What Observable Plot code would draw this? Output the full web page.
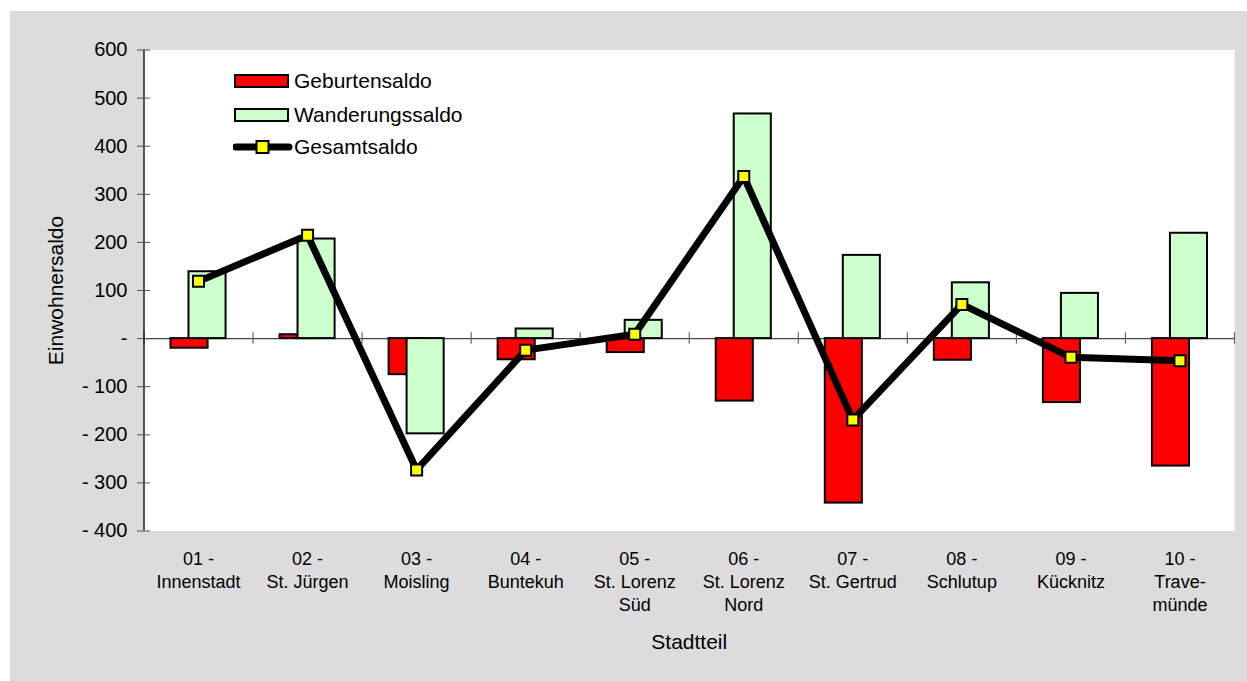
<!DOCTYPE html>
<html>
<head>
<meta charset="utf-8">
<script src="https://cdn.jsdelivr.net/npm/d3@7"></script>
<script src="https://cdn.jsdelivr.net/npm/@observablehq/plot@0.6"></script>
<style>
  html, body { margin: 0; padding: 0; background: #ffffff; width: 1247px; height: 681px; overflow: hidden; }
  #frame { position: absolute; left: 10px; top: 11px; width: 1237px; height: 670px; background: #dcdcdc; }
  #chart { position: absolute; left: 0; top: 0; }
  .legend { position: absolute; font-family: "Liberation Sans", Arial, sans-serif; font-size: 21px; color: #000; }
  .legend .item { position: absolute; left: 0; height: 22px; white-space: nowrap; }
  .legend svg { position: absolute; left: 0; top: 1px; }
  .legend span { position: absolute; left: 61px; top: 0; line-height: 22px; }
</style>
</head>
<body>
<div id="frame"><div id="chart"></div></div>
<div class="legend" id="legend" style="left:233px; top:70px;"></div>
<script>
const categories = [
  "01 -\nInnenstadt", "02 -\nSt. Jürgen", "03 -\nMoisling", "04 -\nBuntekuh",
  "05 -\nSt. Lorenz\nSüd", "06 -\nSt. Lorenz\nNord", "07 -\nSt. Gertrud",
  "08 -\nSchlutup", "09 -\nKücknitz", "10 -\nTrave-\nmünde"
];
const geburtensaldo = [-20, 8, -75, -44, -29, -130, -342, -45, -133, -265];
const wanderungssaldo = [139, 207, -198, 20, 38, 467, 173, 116, 94, 219];
const gesamtsaldo = [119, 215, -273, -24, 9, 337, -169, 71, -39, -46];
const yTicks = [-400, -300, -200, -100, 0, 100, 200, 300, 400, 500, 600];
const seriesNames = ["Geburtensaldo", "Wanderungssaldo", "Gesamtsaldo"];

const font = '"Liberation Sans", Arial, sans-serif';
const idx = categories.map((_, i) => i);
const xDomain = [-0.5, categories.length - 0.5];
const boundaries = d3.range(categories.length + 1).map(i => i - 0.5);

const barHalf = 0.17, barShift = 0.0825;
const redData = idx.map(i => ({i, v: geburtensaldo[i]}));
const greenData = idx.map(i => ({i, v: wanderungssaldo[i]}));
const totalData = idx.map(i => ({i, v: gesamtsaldo[i]}));

const fmt = v => v === 0 ? "-" : (v < 0 ? "- " + Math.abs(v) : String(v));

const plot = Plot.plot({
  width: 1237,
  height: 670,
  marginLeft: 133.5,
  marginRight: 13,
  marginTop: 38.5,
  marginBottom: 150.5,
  style: { background: "transparent", fontFamily: font, fontSize: "20px", color: "#000" },
  x: { type: "linear", domain: xDomain, axis: null },
  y: { domain: [-400, 600], ticks: yTicks, axis: null },
  marks: [
    Plot.frame({ fill: "white", stroke: "none" }),
    Plot.ruleY([0], { stroke: "#444", strokeWidth: 1.3 }),
    Plot.ruleX(boundaries, { y1: -12, y2: 12, stroke: "#666", strokeWidth: 1.2 }),
    Plot.rectY(redData, { x1: d => d.i - barShift - barHalf, x2: d => d.i - barShift + barHalf, y1: 0, y2: "v", fill: "#ff0000", stroke: "#000", strokeWidth: 2 }),
    Plot.rectY(greenData, { x1: d => d.i + barShift - barHalf, x2: d => d.i + barShift + barHalf, y1: 0, y2: "v", fill: "#ccffcc", stroke: "#000", strokeWidth: 2 }),
    Plot.line(totalData, { x: "i", y: "v", stroke: "#000", strokeWidth: 7, strokeLinejoin: "miter" }),
    Plot.dot(totalData, { x: "i", y: "v", symbol: "square", r: 6.2, fill: "#ffff00", stroke: "#000", strokeWidth: 2 }),
    Plot.ruleX([xDomain[0]], { stroke: "#000", strokeWidth: 1.3 }),
    Plot.axisY(yTicks, { label: null, tickSize: 13, dx: 6.5, tickPadding: 10, tickFormat: fmt, stroke: "#555", fontSize: 20, fill: "#000" }),
    Plot.text(["Einwohnersaldo"], { frameAnchor: "left", textAnchor: "middle", rotate: -90, dx: -87.5, fontSize: 21, fill: "#000" }),
    Plot.text(idx, { x: d => d, text: d => categories[d], frameAnchor: "bottom", lineAnchor: "top", dy: 17, lineHeight: 1.3, fontSize: 18, fill: "#000" }),
    Plot.text(["Stadtteil"], { frameAnchor: "bottom", lineAnchor: "middle", dy: 111, fontSize: 21, fill: "#000" })
  ]
});
document.getElementById("chart").appendChild(plot);

// Legend
const legend = d3.select("#legend");
const items = [
  { name: seriesNames[0], type: "rect", fill: "#ff0000", top: 0 },
  { name: seriesNames[1], type: "rect", fill: "#ccffcc", top: 34 },
  { name: seriesNames[2], type: "line", top: 66 }
];
for (const it of items) {
  const div = legend.append("div").attr("class", "item").style("top", it.top + "px");
  const svg = div.append("svg").attr("width", 60).attr("height", 20);
  if (it.type === "rect") {
    svg.append("rect").attr("x", 2).attr("y", 4).attr("width", 53).attr("height", 12)
      .attr("fill", it.fill).attr("stroke", "#000").attr("stroke-width", 2);
  } else {
    svg.append("line").attr("x1", 3).attr("x2", 56).attr("y1", 10).attr("y2", 10)
      .attr("stroke", "#000").attr("stroke-width", 7).attr("stroke-linecap", "round");
    svg.append("rect").attr("x", 23.5).attr("y", 4).attr("width", 12).attr("height", 12)
      .attr("fill", "#ffff00").attr("stroke", "#000").attr("stroke-width", 2);
  }
  div.append("span").text(it.name);
}
</script>
</body>
</html>
